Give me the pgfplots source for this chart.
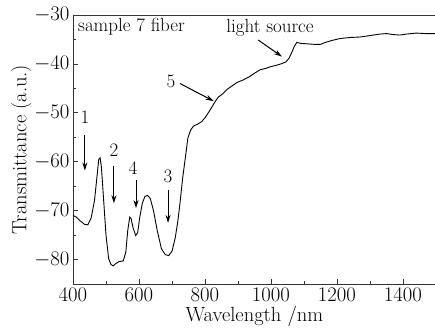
\documentclass[border=0pt]{standalone}
\usepackage{pgfplots}
\pgfplotsset{compat=1.18}
\usetikzlibrary{arrows.meta}
\begin{document}
\begin{tikzpicture}
\begin{axis}[
  scale only axis,
  width=363pt, height=269pt,
  xmin=400, xmax=1500, ymin=-85, ymax=-30,
  axis lines=left,
  axis line style={-, line width=0.8pt, black!80},
  xtick={400,600,800,1000,1200,1400},
  minor xtick={500,700,900,1100,1300},
  ytick={-80,-70,-60,-50,-40,-30},
  minor ytick={-85,-75,-65,-55,-45,-35},
  /pgf/number format/set thousands separator={},
  tick align=inside,
  major tick length=5pt, minor tick length=3pt,
  tick style={black!80, line width=0.7pt},
  ticklabel style={font=\fontsize{22}{24}\selectfont},
  xticklabel style={yshift=-1pt},
  xlabel={Wavelength /nm},
  ylabel={Transmittance (a.u.)},
  label style={font=\fontsize{20.5}{23}\selectfont},
  xlabel style={yshift=3pt},
  ylabel style={yshift=-4pt},
  clip=false,
]
\draw[line width=0.8pt, black!80] (rel axis cs:0,1) -- (rel axis cs:1,1);
\addplot[black, line width=0.9pt] coordinates {
(400,-71.0) (410,-71.3) (420,-72.0) (435,-72.8) (445,-72.9) (455,-71.5)
(465,-68) (472,-63.5) (478,-59.5) (482,-59.2) (486,-61) (492,-67)
(500,-75) (508,-79.8) (515,-81.0) (522,-81.3) (530,-80.8) (540,-80.4)
(552,-80.3) (560,-78.5) (566,-74) (572,-71.3) (576,-71.6) (582,-73.5)
(590,-75.1) (596,-74.5) (602,-71.5) (610,-68.5) (618,-67.1) (626,-66.9)
(634,-67.5) (644,-70) (655,-74) (668,-77.8) (680,-79.0) (690,-79.2)
(700,-78.3) (710,-75.5) (718,-72.0) (725,-68) (732,-63.5) (740,-59.4)
(748,-55.2) (756,-53.6) (765,-52.7) (778,-52.3) (790,-51.8) (800,-51.0)
(812,-49.8) (830,-47.8) (840,-46.8) (852,-46.2) (867,-45.2) (882,-44.5)
(897,-43.8) (915,-43.3) (935,-42.6) (950,-41.9) (967,-41.2) (985,-40.9) (997,-40.6)
(1015,-40.3) (1030,-40.0) (1045,-39.6) (1055,-38.8) (1062,-37.8) (1070,-36.5)
(1078,-35.6) (1090,-35.8) (1110,-35.9) (1130,-36.0) (1150,-36.0) (1165,-35.6)
(1185,-35.2) (1210,-34.8) (1240,-34.6) (1270,-34.5) (1290,-34.3) (1310,-34.1)
(1330,-33.9) (1350,-33.8) (1370,-34.0) (1390,-34.1) (1410,-33.9) (1440,-33.7)
(1470,-33.8) (1500,-33.8)
};
\tikzset{ann/.style={font=\fontsize{19}{21}\selectfont}, arr/.style={-{Stealth[length=8pt,width=5pt]}, line width=1pt}}
\node[ann, anchor=west] at (axis cs:405,-32.3) {sample 7 fiber};
\node[ann] at (axis cs:436,-50.9) {1};
\draw[arr] (axis cs:436,-54.5) -- (axis cs:436,-61.8);
\node[ann] at (axis cs:524,-57.7) {2};
\draw[arr] (axis cs:524,-60.8) -- (axis cs:524,-68.5);
\node[ann] at (axis cs:582,-61.4) {4};
\draw[arr] (axis cs:591,-63.8) -- (axis cs:591,-69.5);
\node[ann] at (axis cs:688,-63) {3};
\draw[arr] (axis cs:688,-65.8) -- (axis cs:688,-72.5);
\node[ann] at (axis cs:697,-43.6) {5};
\draw[arr] (axis cs:724,-44) -- (axis cs:826,-47.6);
\node[ann] at (axis cs:997,-32.6) {light source};
\draw[arr] (axis cs:961,-35.1) -- (axis cs:1033,-38.5);
\end{axis}
\pgfresetboundingbox
\path (current axis.south west) ++(-73pt,-50pt) rectangle ++(435pt,334pt);
\end{tikzpicture}
\end{document}
